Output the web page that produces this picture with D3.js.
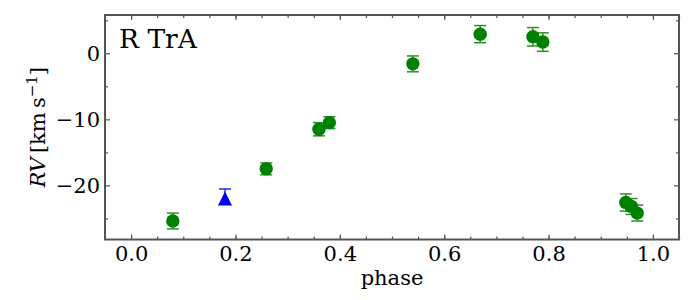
<!DOCTYPE html>
<html>
<head>
<meta charset="utf-8">
<script src="https://cdn.jsdelivr.net/npm/d3@7"></script>
<style>
  html, body { margin: 0; padding: 0; background: #fff; }
  svg { display: block; }
  text { font-family: "DejaVu Serif", serif; fill: #000; }
</style>
</head>
<body>
<svg id="chart" width="700" height="300"></svg>
<script>
// ---- data ----
const greenPhase = [0.080, 0.259, 0.360, 0.380, 0.540, 0.669, 0.770, 0.789, 0.948, 0.959, 0.970];
const greenRV    = [-25.4, -17.5, -11.5, -10.5, -1.6, 2.9, 2.5, 1.7, -22.6, -23.2, -24.2];
const greenErr   = [1.2, 0.9, 1.0, 0.9, 1.2, 1.3, 1.4, 1.4, 1.3, 1.2, 1.2];
const bluePhase  = [0.180];
const blueRV     = [-22.0];
const blueErrUp  = [1.45];
const blueErrLo  = [0.8];
const xMajorTicks = [0.0, 0.2, 0.4, 0.6, 0.8, 1.0];
const yMajorTicks = [-20, -10, 0];
const starName = "R TrA";

// ---- layout ----
const svg = d3.select("#chart");
const L = 105, R = 679, T = 15, B = 239.5;
const x = d3.scaleLinear().domain([-0.05, 1.05]).range([L, R]);
const y = d3.scaleLinear().domain([-28.2, 5.8]).range([B, T]);

const axisColor = "#555";
const xMinor = d3.range(-0.05, 1.051, 0.05).map(v => +v.toFixed(2)).filter(v => v >= -0.05 && v <= 1.05);
const yMinor = [-25, -15, -5, 5];
const fmtX = d3.format(".1f");
const fmtY = v => (v < 0 ? "\u2212" + Math.abs(v) : String(v));

function styleAxis(g) {
  g.select(".domain").remove();
  g.selectAll(".tick line").attr("stroke", axisColor).attr("stroke-width", 1.2);
  g.selectAll(".tick text").style("font-size", "21px").attr("fill", "#000");
}

// bottom
svg.append("g").attr("transform", `translate(0,${B})`)
  .call(d3.axisBottom(x).tickValues(xMajorTicks).tickFormat(fmtX).tickSize(-5).tickPadding(7))
  .call(styleAxis);
svg.append("g").attr("transform", `translate(0,${B})`)
  .call(d3.axisBottom(x).tickValues(xMinor).tickFormat("").tickSize(-3))
  .call(styleAxis);
// top
svg.append("g").attr("transform", `translate(0,${T})`)
  .call(d3.axisTop(x).tickValues(xMajorTicks).tickFormat("").tickSize(-5))
  .call(styleAxis);
svg.append("g").attr("transform", `translate(0,${T})`)
  .call(d3.axisTop(x).tickValues(xMinor).tickFormat("").tickSize(-3))
  .call(styleAxis);
// left
svg.append("g").attr("transform", `translate(${L},0)`)
  .call(d3.axisLeft(y).tickValues(yMajorTicks).tickFormat(fmtY).tickSize(-5).tickPadding(5))
  .call(styleAxis);
svg.append("g").attr("transform", `translate(${L},0)`)
  .call(d3.axisLeft(y).tickValues(yMinor).tickFormat("").tickSize(-3))
  .call(styleAxis);
// right
svg.append("g").attr("transform", `translate(${R},0)`)
  .call(d3.axisRight(y).tickValues(yMajorTicks).tickFormat("").tickSize(-5))
  .call(styleAxis);
svg.append("g").attr("transform", `translate(${R},0)`)
  .call(d3.axisRight(y).tickValues(yMinor).tickFormat("").tickSize(-3))
  .call(styleAxis);

// frame
svg.append("rect").attr("x", L).attr("y", T).attr("width", R - L).attr("height", B - T)
  .attr("fill", "none").attr("stroke", axisColor).attr("stroke-width", 2);

// ---- data marks ----
function errorBars(phases, vals, errUp, errLo, color) {
  const g = svg.append("g").attr("stroke", color).attr("stroke-width", 1.5).attr("opacity", 0.85);
  phases.forEach((p, i) => {
    const cx = x(p), y1 = y(vals[i] + errUp[i]), y2 = y(vals[i] - errLo[i]);
    g.append("line").attr("x1", cx).attr("x2", cx).attr("y1", y1).attr("y2", y2);
    g.append("line").attr("x1", cx - 6).attr("x2", cx + 6).attr("y1", y1).attr("y2", y1);
    g.append("line").attr("x1", cx - 6).attr("x2", cx + 6).attr("y1", y2).attr("y2", y2);
  });
}
errorBars(greenPhase, greenRV, greenErr, greenErr, "#008000");
errorBars(bluePhase, blueRV, blueErrUp, blueErrLo, "#0000ff");

svg.append("g").selectAll("circle").data(greenPhase).join("circle")
  .attr("cx", d => x(d)).attr("cy", (d, i) => y(greenRV[i])).attr("r", 6.7)
  .attr("fill", "#008000");

// matplotlib-style '^' marker: bbox-centred triangle, 14px wide and tall
const triPath = "M0,-7L7,7L-7,7Z";
svg.append("g").selectAll("path").data(bluePhase).join("path")
  .attr("d", triPath)
  .attr("transform", (d, i) => `translate(${x(d)},${y(blueRV[i])})`)
  .attr("fill", "#0000ff");

// ---- labels ----
svg.append("text").attr("x", 119).attr("y", 47.5).style("font-size", "26.5px").text(starName);

svg.append("text").attr("x", (L + R) / 2).attr("y", 285).attr("text-anchor", "middle")
  .style("font-size", "21px").text("phase");

const yl = svg.append("text")
  .attr("transform", `translate(45,${(T + B) / 2}) rotate(-90)`)
  .attr("text-anchor", "middle").style("font-size", "21px");
yl.append("tspan").style("font-style", "italic").text("RV");
yl.append("tspan").text("\u2009[km\u2009s");
yl.append("tspan").attr("dy", -8).style("font-size", "15px").text("\u22121");
yl.append("tspan").attr("dy", 8).text("]");
</script>
</body>
</html>
